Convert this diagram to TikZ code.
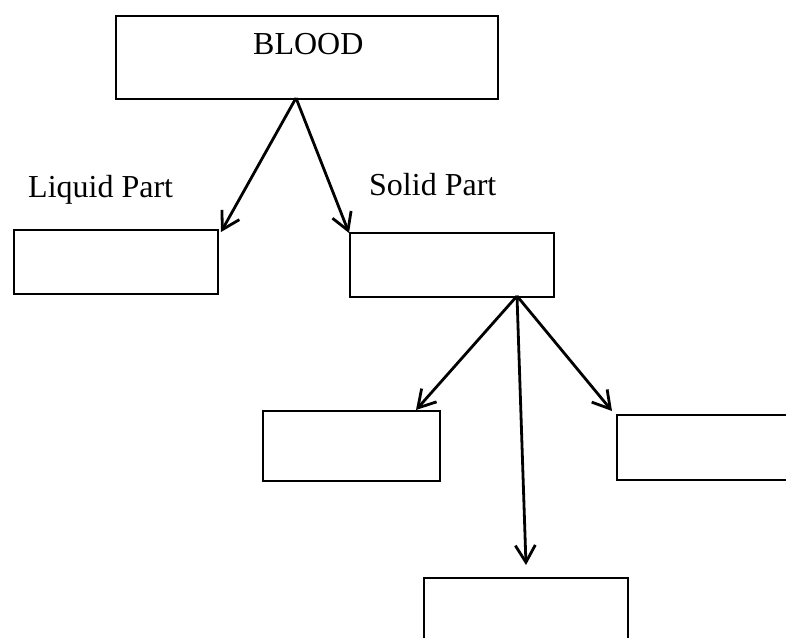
\documentclass[tikz,border=0pt]{standalone}
\usepackage{fontspec}
\setmainfont{Liberation Serif}
\usetikzlibrary{arrows.meta}
\begin{document}
\begin{tikzpicture}[x=1pt,y=-1pt,
  box/.style={draw,line width=1.6pt,rectangle,inner sep=0pt,anchor=north west},
  lbl/.style={font=\fontsize{32}{36}\selectfont,inner sep=0pt,anchor=base west},
  arr/.style={line width=2.8pt,-{Straight Barb[length=17pt,width=20pt,line width=2.8pt]}}]
\useasboundingbox (0,0) rectangle (786,637);
\clip (0,0) rectangle (786,637);
\node[box,minimum width=382pt,minimum height=83pt] (blood) at (115,15) {};
\node[lbl] (bloodt) at (253,54) {BLOOD};
\node[box,minimum width=204pt,minimum height=64pt] (liq) at (13,229) {};
\node[box,minimum width=204pt,minimum height=64pt] (sol) at (349,232) {};
\node[box,minimum width=177pt,minimum height=70pt] (ll) at (262,410) {};
\node[box,minimum width=190pt,minimum height=65pt] (rr) at (616,414) {};
\node[box,minimum width=204pt,minimum height=80pt] (bb) at (423,577) {};
\node[lbl] (liqt) at (28,197) {Liquid Part};
\node[lbl] (solt) at (369,195) {Solid Part};
\coordinate (ba) at (296,98);
\coordinate (sa) at (517,296);
\coordinate (t1) at (221,232);
\coordinate (t2) at (349,233);
\coordinate (t3) at (416,410);
\coordinate (t4) at (526,565);
\coordinate (t5) at (612,411);
\draw[arr] (ba) -- (t1);
\draw[arr] (ba) -- (t2);
\draw[arr] (sa) -- (t3);
\draw[arr] (sa) -- (t4);
\draw[arr] (sa) -- (t5);
\end{tikzpicture}
\end{document}
